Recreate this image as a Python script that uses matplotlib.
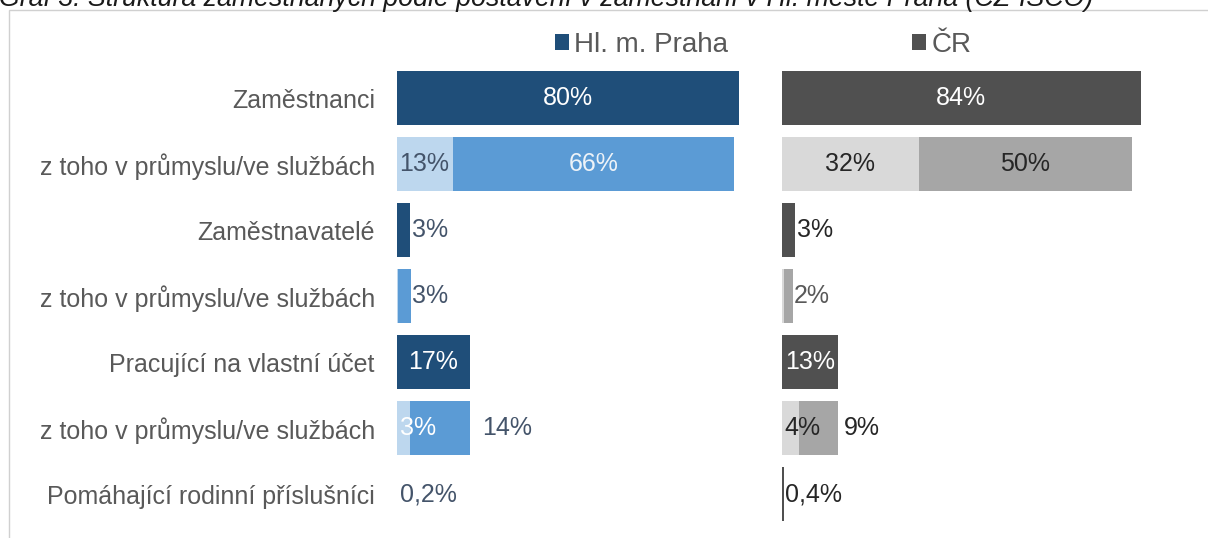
import numpy as np
import matplotlib
matplotlib.use('Agg')
import matplotlib.pyplot as plt
from matplotlib.patches import Rectangle

plt.rcParams['font.family'] = ['Liberation Sans', 'DejaVu Sans']

title = 'Graf 3: Struktura zaměstnaných podle postavení v zaměstnání v Hl. městě Praha (CZ-ISCO)'

categories = ['Zaměstnanci', 'z toho v průmyslu/ve službách',
              'Zaměstnavatelé', 'z toho v průmyslu/ve službách',
              'Pracující na vlastní účet', 'z toho v průmyslu/ve službách',
              'Pomáhající rodinní příslušníci']

# hlavni skupiny (radky 0, 2, 4, 6) a rozpad prumysl/sluzby (radky 1, 3, 5)
praha_main = [80, 3, 17, 0.2]
praha_prum = [13, 0.2, 3]
praha_sluz = [66, 3, 14]

cr_main = [84, 3, 13, 0.4]
cr_prum = [32, 0.5, 4]
cr_sluz = [50, 2, 9]

series_names = ['Hl. m. Praha', 'ČR']

W, H = 1208, 538
PX = 4.27  # px na procento
FS = 18

fig = plt.figure(figsize=(W / 100, H / 100), dpi=100)


def px_axes(x0, y0, x1, y1):
    ax = fig.add_axes([x0 / W, 1 - y1 / H, (x1 - x0) / W, (y1 - y0) / H])
    ax.set_xlim(0, (x1 - x0) / PX)
    ax.set_ylim(6.5, -0.5)
    for s in ax.spines.values():
        s.set_visible(False)
    ax.set_xticks([])
    return ax


def fmt(v):
    if v < 1:
        return f'{v:.1f}'.replace('.', ',') + '%'
    return f'{v:.0f}%'


def draw_panel(ax, main, prum, sluz, colors, lab):
    dark, mid, light = colors
    main_rows = np.arange(0, 7, 2)
    sub_rows = np.arange(1, 6, 2)
    bars = ax.barh(main_rows, main, height=0.83, color=dark, label=lab['name'])
    # velmi male hodnoty Excel prakticky nevykresli
    for b, v in zip(bars, main):
        if v < lab['min_visible']:
            b.set_alpha(0)
    ax.barh(sub_rows, prum, height=0.83, color=light)
    ax.barh(sub_rows, sluz, left=prum, height=0.83, color=mid)

    for y, v in zip(main_rows, main):
        if v >= 10:
            ax.text(v / 2, y, fmt(v), ha='center', va='center', color='white', fontsize=FS)
        else:
            ax.text(v + 0.4, y, fmt(v), ha='left', va='center', color=lab['out'], fontsize=FS)

    for y, p, s in zip(sub_rows, prum, sluz):
        if p >= 20:
            ax.text(p / 2, y, fmt(p), ha='center', va='center', color=lab['light'], fontsize=FS)
        elif p >= 1:
            c = lab['light'] if p >= 10 else lab['light_small']
            ax.text(0.6, y, fmt(p), ha='left', va='center', color=c, fontsize=FS)
        end = p + s
        if s >= 20:
            ax.text(p + s / 2, y, fmt(s), ha='center', va='center', color=lab['mid'], fontsize=FS)
        elif s >= 5:
            ax.text(end + lab['gap'], y, fmt(s), ha='left', va='center', color=lab['out'], fontsize=FS)
        else:
            ax.text(end + 0.3, y, fmt(s), ha='left', va='center', color=lab['small'], fontsize=FS)


ax1 = px_axes(397, 65, 772, 527)
ax2 = px_axes(782, 65, 1200, 527)

draw_panel(ax1, praha_main, praha_prum, praha_sluz,
           ('#1F4E79', '#5B9BD5', '#BDD7EE'),
           dict(name=series_names[0], out='#44546A', light='#44546A', light_small='white',
                mid='#EEF3F8', small='#44546A', gap=3.0, min_visible=0.3))
draw_panel(ax2, cr_main, cr_prum, cr_sluz,
           ('#505050', '#A6A6A6', '#D9D9D9'),
           dict(name=series_names[1], out='#262626', light='#262626', light_small='#262626',
                mid='#262626', small='#595959', gap=1.5, min_visible=0.3))

ax1.set_yticks(range(len(categories)))
ax1.set_yticklabels(categories, fontsize=FS, color='#595959')
ax1.tick_params(axis='y', length=0, pad=16)
ax2.set_yticks([])

for ax, x in [(ax1, 555), (ax2, 912)]:
    ax.legend(loc='center left', bbox_to_anchor=(x / W, 1 - 45 / H),
              bbox_transform=fig.transFigure, frameon=False, fontsize=20,
              labelcolor='#595959', handlelength=0.5, handleheight=0.5,
              handletextpad=0.2, borderpad=0, borderaxespad=0)

# ramecek grafu a (oriznuty) nadpis
fig.patches.append(Rectangle((9 / W, -0.05), 1.1, 1 - 10 / H + 0.05,
                             transform=fig.transFigure, fill=False,
                             edgecolor='#D0D0D0', lw=1))
fig.text(-0.001, 1 - 6 / H, title, fontsize=19.3, style='italic',
         color='#1A1A1A', ha='left', va='baseline')

fig.savefig('out.png', dpi=100)
